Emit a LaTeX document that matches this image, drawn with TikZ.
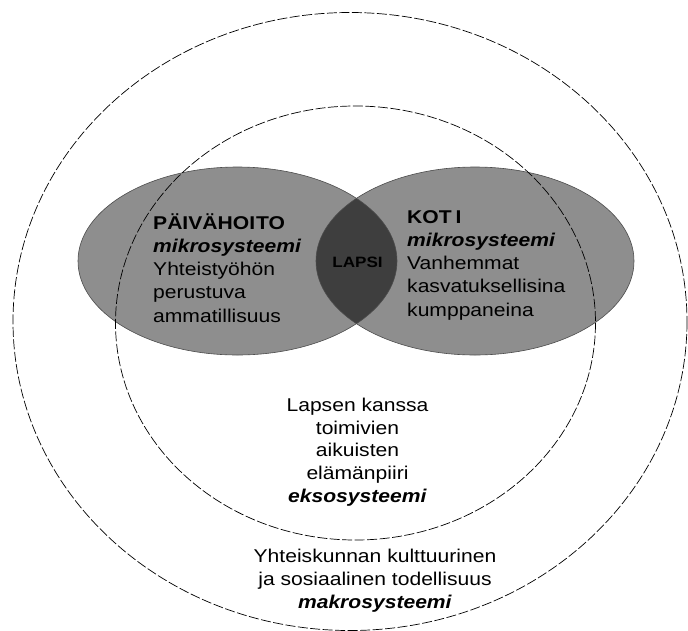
\documentclass[tikz,border=0pt]{standalone}
\usepackage{fontspec}
\setmainfont{Liberation Sans}[FakeStretch=1.14]
\definecolor{microgray}{RGB}{142,142,142}
\definecolor{lensgray}{RGB}{62,62,62}
\begin{document}
\begin{tikzpicture}[x=1pt,y=-1pt]
    \tikzstyle{ring}=[draw=black, line width=0.7pt, dash pattern=on 10pt off 2.5pt]
    \tikzstyle{micro}=[draw=black!70, line width=0.6pt]
    \tikzstyle{txt}=[inner sep=0pt, font=\fontsize{18.5}{23.2}\selectfont]

    \useasboundingbox (0,0) rectangle (688,630);

    % microsystems and their overlap
    \fill[microgray] (237.5,261) ellipse [x radius=159.5, y radius=94];
    \fill[microgray] (475,261) ellipse [x radius=159, y radius=94];
    \begin{scope}
      \clip (237.5,261) ellipse [x radius=159.5, y radius=94];
      \fill[lensgray] (475,261) ellipse [x radius=159, y radius=94];
    \end{scope}
    \draw[micro] (237.5,261) ellipse [x radius=159.5, y radius=94];
    \draw[micro] (475,261) ellipse [x radius=159, y radius=94];

    % exo- and macrosystem
    \draw[ring] (355.5,323) ellipse [x radius=240, y radius=217];
    \draw[ring] (350,321.5) ellipse [x radius=337, y radius=309];

    \node[txt, anchor=base west, align=left] (daycare) at (153,322)
      {\textbf{PÄIVÄHOI\kern1pt TO}\\ \textbf{\textit{mikrosysteemi}}\\ Yhteistyöhön\\ perustuva\\ ammatillisuus};
    \node[txt, anchor=base west, align=left] (home) at (407,316)
      {\textbf{KOT\kern4pt I}\\ \textbf{\textit{mikrosysteemi}}\\ Vanhemmat\\ kasvatuksellisina\\ kumppaneina};
    \node[inner sep=0pt, font=\fontsize{15}{17}\selectfont\bfseries] (child) at (357.5,262) {LAPSI};
    \node[txt, font=\fontsize{18.5}{22.6}\selectfont, anchor=base, align=center] (exo) at (357.5,502)
      {Lapsen kanssa\\ toimivien\\ aikuisten\\ elämänpiiri\\ \textbf{\textit{eksosysteemi}}};
    \node[txt, font=\fontsize{18.5}{22.6}\selectfont, anchor=base, align=center] (macro) at (375,608)
      {Yhteiskunnan kulttuurinen\\ ja sosiaalinen todellisuus\\ \textbf{\textit{makrosysteemi}}};
  \end{tikzpicture}
\end{document}
